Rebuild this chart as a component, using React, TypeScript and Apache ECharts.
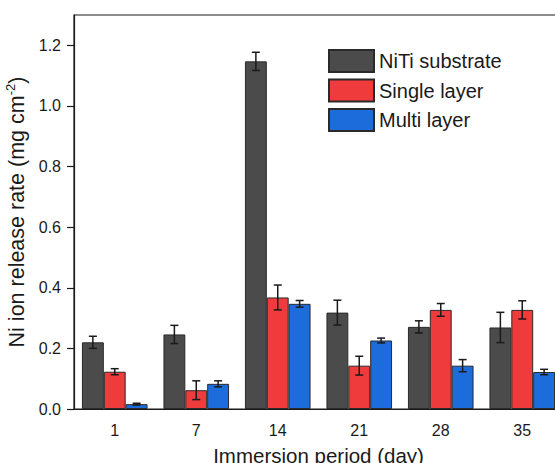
import React, { useEffect, useRef } from "react";
import * as echarts from "echarts";

const categories = ["1", "7", "14", "21", "28", "35"];
const seriesNames = ["NiTi substrate", "Single layer", "Multi layer"];
const nitiValues = [0.22, 0.246, 1.147, 0.318, 0.271, 0.269];
const nitiErrors = [0.02, 0.03, 0.03, 0.041, 0.02, 0.05];
const singleValues = [0.123, 0.062, 0.368, 0.143, 0.327, 0.327];
const singleErrors = [0.01, 0.031, 0.041, 0.031, 0.021, 0.03];
const multiValues = [0.016, 0.083, 0.347, 0.226, 0.143, 0.122];
const multiErrors = [0.003, 0.01, 0.011, 0.008, 0.02, 0.009];
const yTickValues = [0, 0.2, 0.4, 0.6, 0.8, 1.0, 1.2];

const colors = ["#4b4b4b", "#ef3b3b", "#1c6cdc"];
const FONT = "Arial, 'Liberation Sans', Helvetica, sans-serif";
const BAR_CAT_GAP = 0.195;

export default function App() {
  const ref = useRef<HTMLDivElement>(null);
  useEffect(() => {
    document.body.style.margin = "0";
    const chart = echarts.init(ref.current!, null, { renderer: "svg" });
    const values = [nitiValues, singleValues, multiValues];
    const errors = [nitiErrors, singleErrors, multiErrors];

    const barSeries = values.map((vals, i) => ({
      name: seriesNames[i],
      type: "bar",
      data: vals,
      barGap: "0%",
      barCategoryGap: `${BAR_CAT_GAP * 100}%`,
      itemStyle: { color: colors[i], borderColor: "#2a2a2a", borderWidth: 1 },
      z: 2,
    }));

    const errSeries = errors.map((errs, i) => ({
      name: seriesNames[i] + " error",
      type: "custom",
      z: 5,
      silent: true,
      data: errs.map((e, k) => [k, values[i][k] - e, values[i][k] + e]),
      encode: { x: 0, y: [1, 2] },
      renderItem: (params: any, api: any) => {
        const idx = api.value(0);
        const lo = api.coord([idx, api.value(1)]);
        const hi = api.coord([idx, api.value(2)]);
        const band = api.size([1, 0])[0];
        const barW = (band * (1 - BAR_CAT_GAP)) / 3;
        const x = lo[0] + (i - 1) * barW;
        const cap = 4;
        const style = { stroke: "#1a1a1a", lineWidth: 1.5, fill: "none" };
        return {
          type: "group",
          children: [
            { type: "line", shape: { x1: x, y1: lo[1], x2: x, y2: hi[1] }, style },
            { type: "line", shape: { x1: x - cap, y1: lo[1], x2: x + cap, y2: lo[1] }, style },
            { type: "line", shape: { x1: x - cap, y1: hi[1], x2: x + cap, y2: hi[1] }, style },
          ],
        };
      },
    }));

    chart.setOption({
      animation: false,
      backgroundColor: "#ffffff",
      textStyle: { fontFamily: FONT },
      grid: {
        left: 74,
        top: 15,
        width: 489,
        bottom: 54,
        containLabel: false,
        outerBoundsMode: "none",
        show: true,
        borderColor: "#1a1a1a",
        borderWidth: 1.2,
        backgroundColor: "transparent",
      },
      legend: {
        data: seriesNames,
        orient: "vertical",
        left: 328,
        top: 49,
        padding: 0,
        itemWidth: 45,
        itemHeight: 22,
        itemGap: 5.5,
        icon: "rect",
        textStyle: { fontSize: 20, color: "#1a1a1a", fontFamily: FONT },
      },
      xAxis: {
        type: "category",
        data: categories,
        axisLine: { lineStyle: { color: "#1a1a1a", width: 1.2 } },
        axisTick: { alignWithLabel: true, length: 7, lineStyle: { color: "#1a1a1a", width: 1.2 } },
        axisLabel: { fontSize: 16, color: "#1a1a1a", margin: 13, fontFamily: FONT },
        name: "Immersion period (day)",
        nameLocation: "middle",
        nameGap: 36,
        nameTextStyle: { fontSize: 20.5, color: "#1a1a1a", fontFamily: FONT },
      },
      yAxis: {
        type: "value",
        min: 0,
        max: 1.3,
        splitLine: { show: false },
        axisLine: { show: true, lineStyle: { color: "#1a1a1a", width: 1.2 } },
        axisTick: { show: true, length: 7, customValues: yTickValues, lineStyle: { color: "#1a1a1a", width: 1.2 } },
        axisLabel: {
          fontSize: 16,
          color: "#1a1a1a",
          margin: 13,
          fontFamily: FONT,
          customValues: yTickValues,
          formatter: (v: number) => v.toFixed(1),
        },
        name: "{a|Ni ion release rate (mg cm}{s|-2}{a|)}",
        nameLocation: "middle",
        nameGap: 33,
        nameRotate: 90,
        nameTextStyle: {
          color: "#1a1a1a",
          fontFamily: FONT,
          rich: {
            a: { fontSize: 21.5, color: "#1a1a1a", fontFamily: FONT, lineHeight: 25 },
            s: { fontSize: 13, color: "#1a1a1a", fontFamily: FONT, verticalAlign: "top", lineHeight: 25, padding: [0, 0, 6, 0] },
          },
        },
      },
      series: [...barSeries, ...errSeries],
    });
    return () => chart.dispose();
  }, []);
  return <div ref={ref} style={{ width: 555, height: 463 }} />;
}
